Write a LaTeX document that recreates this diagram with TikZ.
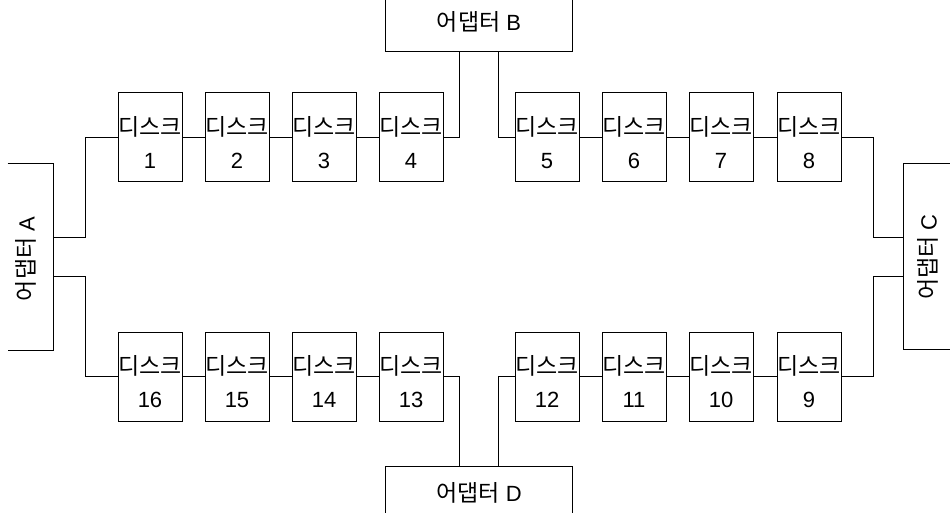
\documentclass[tikz,border=0pt]{standalone}
\usepackage{fontspec}
\setmainfont{Liberation Sans}
\newfontfamily\kr{Noto Sans CJK KR}
\begin{document}
\begin{tikzpicture}[x=1pt,y=-1pt,
  line width=1pt,
  disk/.style={draw, minimum width=64pt, minimum height=89pt, inner sep=0pt},
  lbl/.style={inner sep=0pt, font=\fontsize{22}{24}\selectfont},
  hg/.style={inner sep=0pt, font=\fontsize{23}{24}\selectfont\kr},
  adapter/.style={inner sep=0pt},
  wire/.style={line width=1pt}]
\useasboundingbox (0,0) rectangle (950,513);

% disks, top row (1..8) and bottom row (16..9)
\foreach \n/\x in {1/150,2/237,3/324,4/411,5/547,6/634,7/721,8/809}{
  \node[disk] (d\n) at (\x,137.5) {};
  \node[hg] (dt\n) at (\x,127) {디스크};
  \node[lbl] (dn\n) at (\x,161) {\n};
}
\foreach \n/\x in {16/150,15/237,14/324,13/411,12/547,11/634,10/721,9/809}{
  \node[disk] (d\n) at (\x,376.5) {};
  \node[hg] (dt\n) at (\x,366) {디스크};
  \node[lbl] (dn\n) at (\x,400) {\n};
}

% adapters (one side left open)
\node[adapter, minimum width=45pt, minimum height=186pt] (A) at (30.5,257) {};
\draw (A.north west) -- (A.north east) -- (A.south east) -- (A.south west);
\node[lbl, rotate=90] (At) at (26,259) {{\kr\fontsize{23}{24}\selectfont 어댑터} A};

\node[adapter, minimum width=186pt, minimum height=56pt] (B) at (479,23) {};
\draw (B.north west) -- (B.south west) -- (B.south east) -- (B.north east);
\node[lbl] (Bt) at (479,22) {{\kr\fontsize{23}{24}\selectfont 어댑터} B};

\node[adapter, minimum width=50pt, minimum height=185pt] (C) at (929,256.5) {};
\draw (C.north east) -- (C.north west) -- (C.south west) -- (C.south east);
\node[lbl, rotate=90] (Ct) at (928,257) {{\kr\fontsize{23}{24}\selectfont 어댑터} C};

\node[adapter, minimum width=186pt, minimum height=56pt] (D) at (479,495) {};
\draw (D.south west) -- (D.north west) -- (D.north east) -- (D.south east);
\node[lbl] (Dt) at (479,493) {{\kr\fontsize{23}{24}\selectfont 어댑터} D};

% rows of wiring
\coordinate (top) at (0,138);
\coordinate (bot) at (0,376);

% chains between neighbouring disks
\foreach \a/\b in {1/2,2/3,3/4,5/6,6/7,7/8}{
  \draw[wire] (d\a.east |- top) -- (d\b.west |- top);
}
\foreach \a/\b in {16/15,15/14,14/13,12/11,11/10,10/9}{
  \draw[wire] (d\a.east |- bot) -- (d\b.west |- bot);
}

% adapter A
\draw[wire] (A.east |- 0,237) -| (85,138) -- (d1.west |- top);
\draw[wire] (A.east |- 0,276) -| (85,376) -- (d16.west |- bot);
% adapter B
\draw[wire] (B.south -| 459,0) |- (d4.east |- top);
\draw[wire] (B.south -| 498,0) |- (d5.west |- top);
% adapter C
\draw[wire] (C.west |- 0,237) -| (873,138) -- (d8.east |- top);
\draw[wire] (C.west |- 0,276) -| (873,376) -- (d9.east |- bot);
% adapter D
\draw[wire] (D.north -| 459,0) |- (d13.east |- bot);
\draw[wire] (D.north -| 498,0) |- (d12.west |- bot);
\end{tikzpicture}
\end{document}
